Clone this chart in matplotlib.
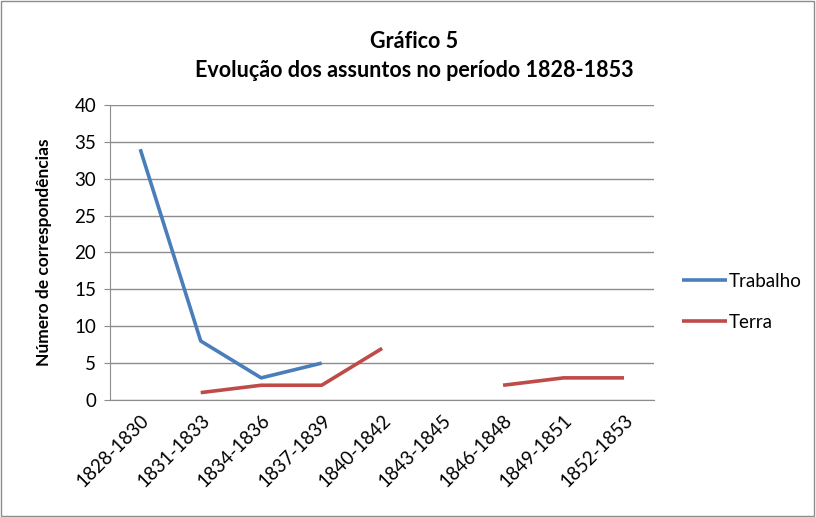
import numpy as np
import matplotlib
matplotlib.use("Agg")
from matplotlib import pyplot as plt
from matplotlib.patches import Rectangle

periods = ["1828-1830", "1831-1833", "1834-1836", "1837-1839", "1840-1842",
           "1843-1845", "1846-1848", "1849-1851", "1852-1853"]
trabalho = [34, 8, 3, 5, np.nan, np.nan, np.nan, np.nan, np.nan]
terra = [np.nan, 1, 2, 2, 7, np.nan, 2, 3, 3]

plt.rcParams['font.family'] = ['Lato', 'DejaVu Sans']

fig = plt.figure(figsize=(8.16, 5.17), dpi=100)
ax = fig.add_axes([0.1348, 0.2263, 0.667, 0.5707])

x = np.arange(len(periods))
ax.plot(x, trabalho, color='#4A7EBB', lw=2.6, label='Trabalho', solid_capstyle='butt')
ax.plot(x, terra, color='#BE4B48', lw=2.6, label='Terra', solid_capstyle='butt')

ax.set_xlim(-0.5, len(periods) - 0.5)
ax.set_ylim(0, 40)
ax.set_yticks(range(0, 41, 5))
ax.yaxis.grid(True, color='#8c8c8c', lw=1)
ax.set_axisbelow(True)
ax.set_xticks(x)
ax.set_xticklabels(periods, rotation=45, ha='right', rotation_mode='anchor', fontsize=13.5)
ax.tick_params(axis='y', labelsize=13.5, length=4, color='#8c8c8c', pad=6)
ax.tick_params(axis='x', length=0, pad=8)
for s in ['top', 'right']:
    ax.spines[s].set_visible(False)
for s in ['left', 'bottom']:
    ax.spines[s].set_color('#8c8c8c')

ax.set_ylabel('Número de correspondências', fontsize=12.5, fontweight='bold', labelpad=16)
fig.suptitle('Gráfico 5\nEvolução dos assuntos no período 1828-1853',
             x=0.508, y=0.94, fontsize=15.5, fontweight='bold', linespacing=1.45)

ax.legend(loc='center left', bbox_to_anchor=(1.02, 0.333), frameon=False,
          fontsize=13.5, handlelength=2.4, handletextpad=0.1, labelspacing=1.3)

fig.patches.append(Rectangle((0.001, 0.001), 0.997, 0.997, transform=fig.transFigure,
                             fill=False, edgecolor='#8c8c8c', lw=1))

fig.savefig('out.png', dpi=100)
